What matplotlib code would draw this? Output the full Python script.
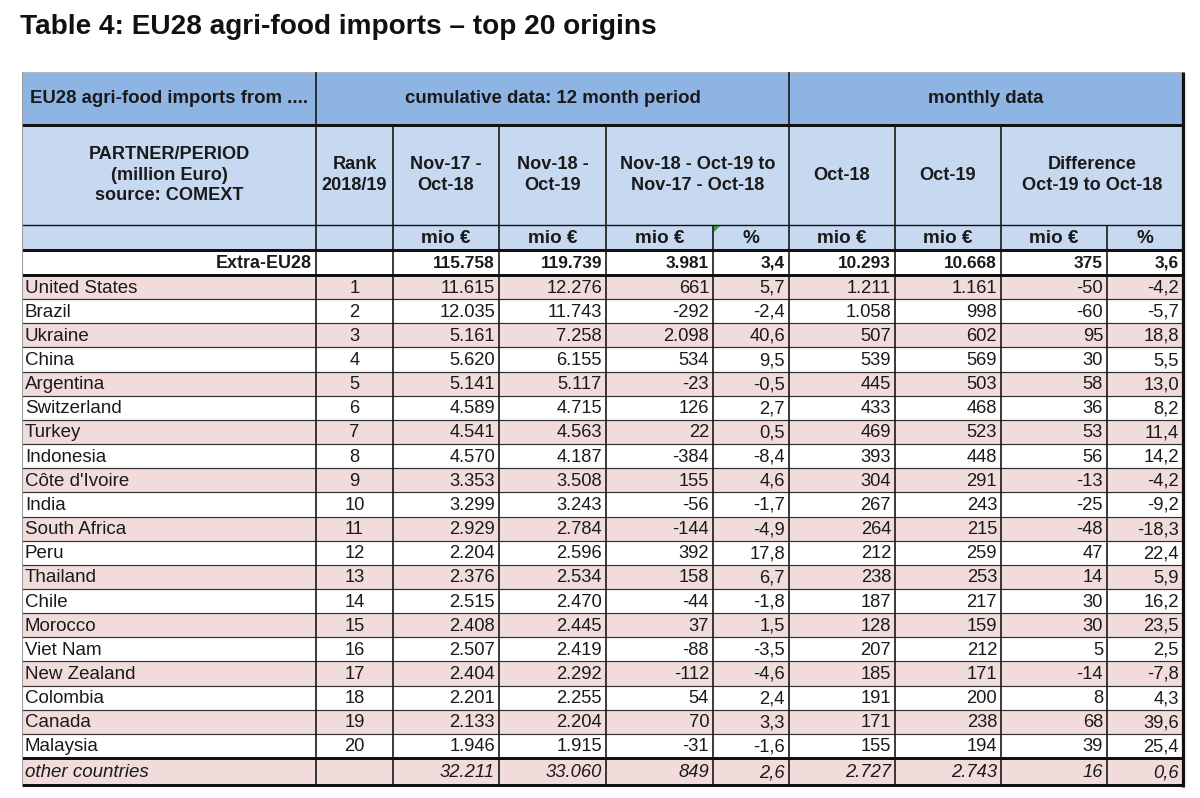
import matplotlib
matplotlib.use("Agg")
import matplotlib.pyplot as plt
from matplotlib.patches import Rectangle, Polygon
from matplotlib import font_manager

# ---------------- data ----------------
countries = ["United States", "Brazil", "Ukraine", "China", "Argentina", "Switzerland",
             "Turkey", "Indonesia", "Côte d'Ivoire", "India", "South Africa", "Peru",
             "Thailand", "Chile", "Morocco", "Viet Nam", "New Zealand", "Colombia",
             "Canada", "Malaysia"]
ranks = [1, 2, 3, 4, 5, 6, 7, 8, 9, 10, 11, 12, 13, 14, 15, 16, 17, 18, 19, 20]
cum_1718 = [11615, 12035, 5161, 5620, 5141, 4589, 4541, 4570, 3353, 3299, 2929, 2204,
            2376, 2515, 2408, 2507, 2404, 2201, 2133, 1946]
cum_1819 = [12276, 11743, 7258, 6155, 5117, 4715, 4563, 4187, 3508, 3243, 2784, 2596,
            2534, 2470, 2445, 2419, 2292, 2255, 2204, 1915]
cum_diff = [661, -292, 2098, 534, -23, 126, 22, -384, 155, -56, -144, 392, 158, -44,
            37, -88, -112, 54, 70, -31]
cum_pct = [5.7, -2.4, 40.6, 9.5, -0.5, 2.7, 0.5, -8.4, 4.6, -1.7, -4.9, 17.8, 6.7,
           -1.8, 1.5, -3.5, -4.6, 2.4, 3.3, -1.6]
oct18 = [1211, 1058, 507, 539, 445, 433, 469, 393, 304, 267, 264, 212, 238, 187, 128,
         207, 185, 191, 171, 155]
oct19 = [1161, 998, 602, 569, 503, 468, 523, 448, 291, 243, 215, 259, 253, 217, 159,
         212, 171, 200, 238, 194]
mon_diff = [-50, -60, 95, 30, 58, 36, 53, 56, -13, -25, -48, 47, 14, 30, 30, 5, -14,
            8, 68, 39]
mon_pct = [-4.2, -5.7, 18.8, 5.5, 13.0, 8.2, 11.4, 14.2, -4.2, -9.2, -18.3, 22.4, 5.9,
           16.2, 23.5, 2.5, -7.8, 4.3, 39.6, 25.4]

extra_label = "Extra-EU28"
extra_vals = [115758, 119739, 3981, 3.4, 10293, 10668, 375, 3.6]
other_label = "other countries"
other_vals = [32211, 33060, 849, 2.6, 2727, 2743, 16, 0.6]

title = "Table 4: EU28 agri-food imports \u2013 top 20 origins"
group_headers = ["EU28 agri-food imports from ....", "cumulative data: 12 month period",
                 "monthly data"]
col_headers = ["PARTNER/PERIOD\n(million Euro)\nsource: COMEXT", "Rank\n2018/19",
               "Nov-17 -\nOct-18", "Nov-18 -\nOct-19",
               "Nov-18 - Oct-19 to\nNov-17 - Oct-18", "Oct-18", "Oct-19",
               "Difference\nOct-19 to Oct-18"]
unit_labels = ["", "", "mio \u20ac", "mio \u20ac", "mio \u20ac", "%", "mio \u20ac",
               "mio \u20ac", "mio \u20ac", "%"]

# ---------------- styling / layout ----------------
avail = {f.name for f in font_manager.fontManager.ttflist}
FONT = "Liberation Sans" if "Liberation Sans" in avail else "DejaVu Sans"
plt.rcParams["font.family"] = [FONT, "DejaVu Sans"]

W, H = 1200, 798
fig = plt.figure(figsize=(12, 7.98), dpi=100)
ax = fig.add_axes([0, 0, 1, 1])
ax.set_xlim(0, W)
ax.set_ylim(H, 0)
ax.axis("off")

PX = 0.72  # points per pixel at 100 dpi
C_HEAD1 = "#8db4e2"
C_HEAD2 = "#c6d9f0"
C_PINK = "#f2dcdb"
C_WHITE = "#ffffff"
TXT = "#1a1a1a"

xs = [22, 316, 393, 499, 606, 713, 789, 895, 1001, 1107, 1183]
y_top, y_h1, y_h2, y_unit, y_extra = 72, 125, 225, 250, 275
y_other = 758
y_bot = 785
n = len(countries)
rh = (y_other - y_extra) / n

def rect(x0, y0, x1, y1, color):
    ax.add_patch(Rectangle((x0, y0), x1 - x0, y1 - y0, facecolor=color,
                           edgecolor="none", zorder=1))

def hline(y, x0, x1, lw, color="#111111"):
    ax.plot([x0, x1], [y, y], color=color, lw=lw * PX, solid_capstyle="butt", zorder=3)

def vline(x, y0, y1, lw, color="#111111"):
    ax.plot([x, x], [y0, y1], color=color, lw=lw * PX, solid_capstyle="butt", zorder=3)

def fmt_int(v):
    return f"{v:,}".replace(",", ".")

def fmt_pct(v):
    return f"{v:.1f}".replace(".", ",")

FS_NAME = 13.5
FS_NUM = 13.2
FS_BOLD = 12.4
FS_HEAD1 = 13.4
FS_HEAD2 = 13.1
FS_UNIT = 13.6

# title
ax.text(20, 27, title, fontsize=20.2, fontweight="bold", ha="left", va="center",
        color="#111111")

# backgrounds
rect(xs[0], y_top, xs[-1], y_h1, C_HEAD1)
rect(xs[0], y_h1, xs[-1], y_unit, C_HEAD2)
rect(xs[0], y_unit, xs[-1], y_extra, C_WHITE)
for i in range(n):
    rect(xs[0], y_extra + i * rh, xs[-1], y_extra + (i + 1) * rh,
         C_PINK if i % 2 == 0 else C_WHITE)
rect(xs[0], y_other, xs[-1], y_bot, C_PINK)

# group headers
yc1 = (y_top + y_h1) / 2
for (a, b), lab in zip([(0, 1), (1, 6), (6, 10)], group_headers):
    ax.text((xs[a] + xs[b]) / 2, yc1, lab, fontsize=FS_HEAD1, fontweight="bold",
            ha="center", va="center", color=TXT)

# column headers (with merged spans)
spans = [(0, 1), (1, 2), (2, 3), (3, 4), (4, 6), (6, 7), (7, 8), (8, 10)]
yc2 = (y_h1 + y_h2) / 2
for (a, b), lab in zip(spans, col_headers):
    ax.text((xs[a] + xs[b]) / 2, yc2, lab, fontsize=FS_HEAD2, fontweight="bold",
            ha="center", va="center", linespacing=1.3, color=TXT)

# unit row
ycu = (y_h2 + y_unit) / 2
for j, lab in enumerate(unit_labels):
    if lab:
        ax.text((xs[j] + xs[j + 1]) / 2, ycu + 1, lab, fontsize=FS_UNIT,
                fontweight="bold", ha="center", va="center", color=TXT)

PAD = 4

def put_row(yc, label, rank, vals, weight="normal", style="normal", label_right=False):
    if label_right:
        ax.text(xs[1] - PAD, yc, label, fontsize=FS_BOLD + 0.5, fontweight=weight,
                style=style, ha="right", va="center", color=TXT)
    else:
        ax.text(xs[0] + 3, yc, label, fontsize=FS_NAME, fontweight=weight, style=style,
                ha="left", va="center", color=TXT)
    if rank is not None:
        ax.text((xs[1] + xs[2]) / 2, yc, str(rank), fontsize=FS_NUM,
                ha="center", va="center", color=TXT)
    for k, v in enumerate(vals):
        s = fmt_pct(v) if k in (3, 7) else fmt_int(v)
        ax.text(xs[k + 3] - PAD, yc, s,
                fontsize=FS_BOLD if weight == "bold" else FS_NUM,
                fontweight=weight, style=style, ha="right", va="center", color=TXT)

put_row((y_unit + y_extra) / 2 + 1, extra_label, None, extra_vals, weight="bold",
        label_right=True)
for i in range(n):
    yc = y_extra + (i + 0.5) * rh + 1
    vals = [cum_1718[i], cum_1819[i], cum_diff[i], cum_pct[i], oct18[i], oct19[i],
            mon_diff[i], mon_pct[i]]
    put_row(yc, countries[i], ranks[i], vals)
put_row((y_other + y_bot) / 2 + 1, other_label, None, other_vals, style="italic")

# grid lines
for i in range(1, n):
    hline(y_extra + i * rh, xs[0], xs[-1], 1.2, "#333333")
hline(y_top, xs[0], xs[-1], 1.0, "#b0b8c4")
hline(y_h1, xs[0], xs[-1], 3.0)
hline(y_h2, xs[0], xs[-1], 1.4)
hline(y_unit, xs[0], xs[-1], 3.0)
hline(y_extra, xs[0], xs[-1], 3.0)
hline(y_other, xs[0], xs[-1], 3.0)
hline(y_bot, xs[0], xs[-1], 3.0)

vline(xs[0], y_top, y_bot, 1.0, "#9a9a9a")
vline(xs[1], y_top, y_bot, 1.6)
vline(xs[6], y_top, y_bot, 1.6)
for j in (2, 3, 4, 7, 8):
    vline(xs[j], y_h1, y_bot, 1.6)
for j in (5, 9):
    vline(xs[j], y_h2, y_bot, 1.6)
vline(xs[-1], y_top, y_bot + 1.5, 3.2)

# small comment marker (green triangle)
ax.add_patch(Polygon([[xs[5] + 1, y_h2 + 1], [xs[5] + 7, y_h2 + 1], [xs[5] + 1, y_h2 + 7]],
                     closed=True, facecolor="#2e9e3a", edgecolor="none", zorder=4))

fig.savefig("out.png", dpi=100, facecolor="white")
